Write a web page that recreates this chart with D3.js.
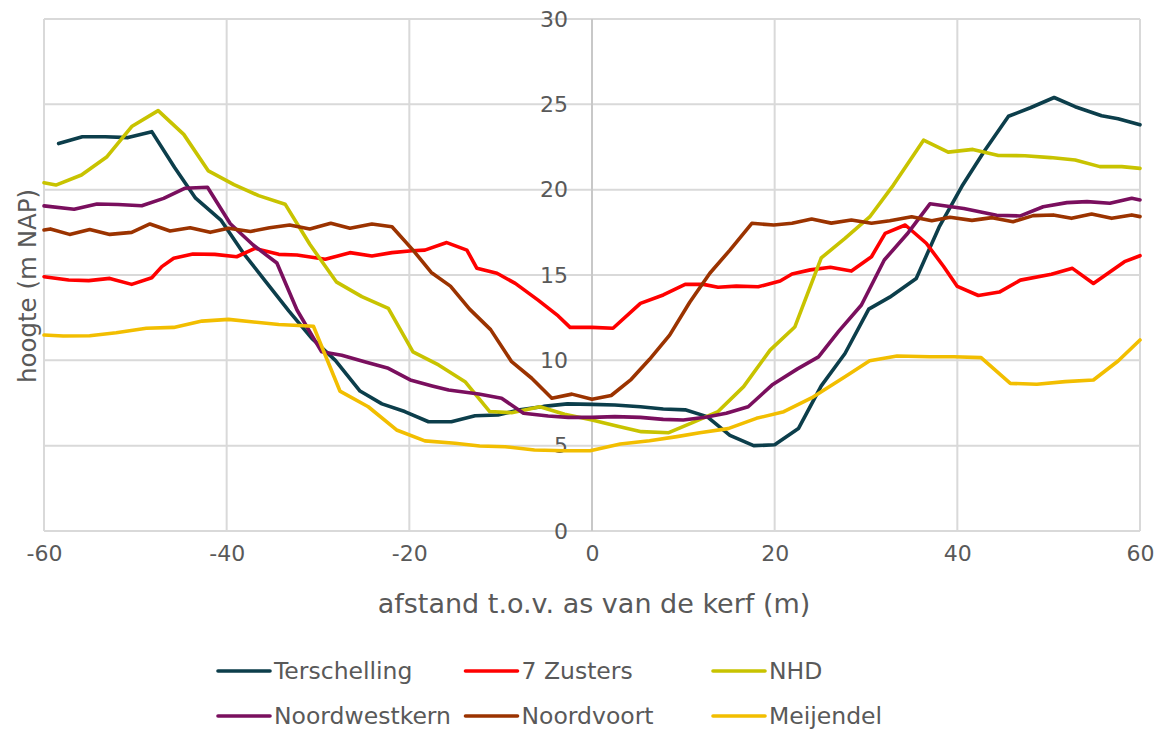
<!DOCTYPE html>
<html>
<head>
<meta charset="utf-8">
<script src="https://cdn.jsdelivr.net/npm/d3@7"></script>
<style>
  body { margin: 0; background: #fff; }
  svg text { font-family: "DejaVu Sans", Verdana, sans-serif; fill: #595959; }
</style>
</head>
<body>
<div id="chart"></div>
<script>
// profile heights [afstand (m), hoogte (m NAP)]
var terschelling = [[-58.4,22.7],[-55.8,23.1],[-53.3,23.1],[-50.8,23.05],[-48.2,23.4],[-45.7,21.3],[-43.4,19.5],[-40.6,18.2],[-38.2,16.3],[-35.7,14.6],[-33.2,12.9],[-30.7,11.3],[-28.1,10.0],[-25.4,8.2],[-23.0,7.45],[-20.5,7.0],[-17.9,6.4],[-15.4,6.4],[-12.8,6.75],[-10.3,6.8],[-7.9,7.1],[-5.3,7.3],[-2.7,7.45],[0,7.42],[2.5,7.38],[5.3,7.28],[7.8,7.15],[10.2,7.1],[12.6,6.7],[15.1,5.6],[17.7,5.0],[20.0,5.05],[22.6,6.0],[25.1,8.5],[27.7,10.4],[30.3,13.0],[32.6,13.7],[35.5,14.8],[38.0,17.8],[40.5,20.2],[43.0,22.3],[45.6,24.3],[48.0,24.8],[50.6,25.4],[52.9,24.86],[55.8,24.33],[57.6,24.15],[60,23.8]];
var zevenZusters = [[-60,14.9],[-57.3,14.71],[-55.1,14.67],[-52.8,14.8],[-50.4,14.45],[-48.2,14.84],[-47.1,15.49],[-45.8,15.98],[-43.7,16.23],[-41.3,16.21],[-38.9,16.07],[-36.9,16.56],[-34.3,16.21],[-32.3,16.17],[-29.2,15.92],[-26.5,16.31],[-24.1,16.11],[-21.9,16.31],[-19.7,16.42],[-18.3,16.46],[-15.9,16.9],[-13.7,16.46],[-12.6,15.39],[-10.4,15.1],[-8.4,14.51],[-5.9,13.53],[-3.7,12.6],[-2.4,11.93],[0,11.93],[2.3,11.88],[5.3,13.34],[7.8,13.83],[10.2,14.45],[12.2,14.45],[13.8,14.28],[15.8,14.35],[18.2,14.31],[20.6,14.65],[21.9,15.06],[23.9,15.3],[26.1,15.45],[28.4,15.23],[30.6,16.07],[32.1,17.44],[34.3,17.93],[36.6,16.86],[38.5,15.5],[40.0,14.33],[42.3,13.8],[44.6,14.0],[46.9,14.7],[50.3,15.05],[52.6,15.39],[54.9,14.5],[58.3,15.78],[60,16.13]];
var nhd = [[-60,20.4],[-58.7,20.27],[-55.9,20.86],[-53.1,21.93],[-50.4,23.7],[-47.5,24.63],[-44.7,23.24],[-42.0,21.1],[-39.2,20.3],[-36.5,19.65],[-33.6,19.15],[-30.9,16.8],[-28.0,14.6],[-25.2,13.73],[-22.3,13.05],[-19.6,10.5],[-16.8,9.73],[-13.9,8.75],[-11.2,7.0],[-8.8,6.93],[-5.7,7.28],[-3.0,6.84],[0,6.5],[2.7,6.15],[5.4,5.82],[8.4,5.76],[11.0,6.35],[13.8,7.0],[16.6,8.46],[19.5,10.6],[22.2,11.95],[25.1,16.0],[27.7,17.15],[30.4,18.4],[33.0,20.27],[36.3,22.9],[39.0,22.2],[41.7,22.36],[44.5,22.0],[47.4,21.99],[50.2,21.88],[52.9,21.74],[55.6,21.35],[58.0,21.35],[60,21.25]];
var noordwestkern = [[-60,19.05],[-56.7,18.85],[-54.2,19.16],[-51.9,19.13],[-49.3,19.06],[-46.9,19.49],[-44.6,20.08],[-42.1,20.14],[-39.6,18.0],[-37.1,16.76],[-34.5,15.7],[-32.3,12.95],[-29.6,10.5],[-27.4,10.3],[-24.9,9.92],[-22.3,9.53],[-19.9,8.85],[-17.5,8.5],[-15.7,8.26],[-12.4,8.03],[-9.9,7.78],[-7.5,6.9],[-4.8,6.74],[-2.6,6.66],[0,6.66],[2.5,6.7],[5.3,6.66],[7.8,6.54],[10.0,6.5],[12.4,6.66],[14.7,6.9],[17.1,7.28],[19.7,8.55],[22.5,9.5],[24.8,10.2],[27.0,11.7],[29.5,13.24],[32.0,15.88],[34.5,17.4],[37.0,19.17],[40.7,18.9],[44.3,18.5],[46.9,18.46],[49.4,19.0],[52.0,19.24],[54.2,19.3],[56.7,19.2],[59.1,19.5],[60,19.4]];
var noordvoort = [[-60,17.64],[-59.3,17.7],[-57.2,17.38],[-55.0,17.67],[-52.8,17.38],[-50.4,17.5],[-48.4,17.99],[-46.2,17.58],[-44.0,17.77],[-41.8,17.5],[-39.8,17.74],[-37.4,17.55],[-35.3,17.77],[-33.1,17.93],[-30.9,17.7],[-28.6,18.03],[-26.5,17.74],[-24.1,17.99],[-21.9,17.83],[-19.6,16.46],[-17.6,15.15],[-15.5,14.35],[-13.4,13.0],[-11.1,11.8],[-8.8,9.92],[-6.6,8.95],[-4.4,7.78],[-2.2,8.02],[0,7.72],[2.1,7.94],[4.3,8.89],[6.3,10.06],[8.5,11.48],[10.7,13.4],[12.9,15.1],[15.1,16.46],[17.5,18.03],[19.9,17.93],[21.9,18.03],[24.05,18.28],[26.2,18.04],[28.4,18.22],[30.6,18.03],[32.6,18.18],[35.0,18.41],[37.2,18.18],[39.2,18.38],[41.6,18.2],[43.8,18.36],[46.1,18.12],[48.3,18.48],[50.5,18.52],[52.5,18.32],[54.7,18.57],[56.9,18.32],[59.1,18.52],[60,18.42]];
var meijendel = [[-60,11.48],[-57.9,11.43],[-55.0,11.44],[-52.1,11.62],[-48.8,11.88],[-45.8,11.93],[-42.7,12.3],[-39.8,12.4],[-37.3,12.26],[-34.3,12.1],[-30.5,12.0],[-27.6,8.2],[-24.5,7.28],[-21.4,5.92],[-18.3,5.28],[-15.0,5.14],[-12.3,4.98],[-9.5,4.94],[-6.3,4.75],[-3.0,4.7],[-0.2,4.7],[3.1,5.1],[6.3,5.29],[9.3,5.53],[11.8,5.76],[14.9,6.0],[18.0,6.6],[21.0,6.99],[24.2,7.85],[27.7,9.04],[30.4,9.98],[33.4,10.25],[37.0,10.21],[39.6,10.21],[42.6,10.16],[45.8,8.65],[48.7,8.6],[51.8,8.75],[54.9,8.85],[57.6,9.96],[60,11.19]];

var seriesNames = ["Terschelling", "7 Zusters", "NHD", "Noordwestkern", "Noordvoort", "Meijendel"];
var seriesData = [terschelling, zevenZusters, nhd, noordwestkern, noordvoort, meijendel];
var seriesColors = ["#0c3e4b", "#ff0000", "#c8c300", "#7a0f5e", "#9b3300", "#f2be00"];
var xTicks = [-60, -40, -20, 0, 20, 40, 60];
var yTicks = [0, 5, 10, 15, 20, 25, 30];

var W = 1157, H = 734;
var margin = {top: 19, right: 17, bottom: 203, left: 44};
var width = W - margin.left - margin.right,
    height = H - margin.top - margin.bottom;

var x = d3.scaleLinear().domain([-60, 60]).range([0, width]);
var y = d3.scaleLinear().domain([0, 30]).range([height, 0]);

var svg = d3.select("#chart").append("svg")
    .attr("width", W)
    .attr("height", H)
  .append("g")
    .attr("transform", "translate(" + margin.left + "," + margin.top + ")");

// gridlines
svg.selectAll(".hgrid")
    .data(yTicks)
  .enter().append("line")
    .attr("x1", 0).attr("x2", width)
    .attr("y1", function(d) { return y(d); })
    .attr("y2", function(d) { return y(d); })
    .attr("stroke", "#d9d9d9").attr("stroke-width", 2);

svg.selectAll(".vgrid")
    .data(xTicks)
  .enter().append("line")
    .attr("y1", 0).attr("y2", height)
    .attr("x1", function(d) { return x(d); })
    .attr("x2", function(d) { return x(d); })
    .attr("stroke", function(d) { return d == 0 ? "#c8c8c8" : "#d9d9d9"; })
    .attr("stroke-width", 2);

// plain hyphen for negatives, like the original
var fmt = function(d) { return String(d); };

// x axis labels
svg.append("g")
    .attr("transform", "translate(0," + height + ")")
    .call(d3.axisBottom(x).tickValues(xTicks).tickFormat(fmt).tickSize(0).tickPadding(14))
    .call(function(g) {
      g.select(".domain").remove();
      g.selectAll("text").attr("font-size", 22).attr("font-family", null).attr("fill", "#595959");
    });

// y axis labels sit next to the x=0 line
svg.append("g")
    .attr("transform", "translate(" + x(0) + ",0)")
    .call(d3.axisLeft(y).tickValues(yTicks).tickFormat(fmt).tickSize(0).tickPadding(24))
    .call(function(g) {
      g.select(".domain").remove();
      g.selectAll("text").attr("font-size", 22).attr("font-family", null).attr("fill", "#595959");
    });

var line = d3.line()
    .x(function(d) { return x(d[0]); })
    .y(function(d) { return y(d[1]); });

svg.selectAll(".serie")
    .data(seriesData)
  .enter().append("path")
    .attr("d", line)
    .attr("fill", "none")
    .attr("stroke", function(d, i) { return seriesColors[i]; })
    .attr("stroke-width", 3.6)
    .attr("stroke-linejoin", "round")
    .attr("stroke-linecap", "round");

// axis titles
svg.append("text")
    .attr("x", width / 2 + 2)
    .attr("y", height + 82)
    .attr("text-anchor", "middle")
    .attr("font-size", 27)
    .text("afstand t.o.v. as van de kerf (m)");

svg.append("text")
    .attr("transform", "translate(" + (-8) + "," + (height / 2 + 11) + ") rotate(-90)")
    .attr("text-anchor", "middle")
    .attr("font-size", 24.5)
    .text("hoogte (m NAP)");

// legend
var legend = svg.selectAll(".legend")
    .data(seriesNames)
  .enter().append("g")
    .attr("transform", function(d, i) {
      return "translate(" + (174 + (i % 3) * 247.5) + "," + (671 - margin.top + Math.floor(i / 3) * 45) + ")";
    });

legend.append("line")
    .attr("x1", 0).attr("x2", 52)
    .attr("stroke", function(d, i) { return seriesColors[i]; })
    .attr("stroke-width", 3.6)
    .attr("stroke-linecap", "round");

legend.append("text")
    .attr("x", 56)
    .attr("dy", "0.35em")
    .attr("font-size", 23.5)
    .text(function(d) { return d; });
</script>
</body>
</html>
